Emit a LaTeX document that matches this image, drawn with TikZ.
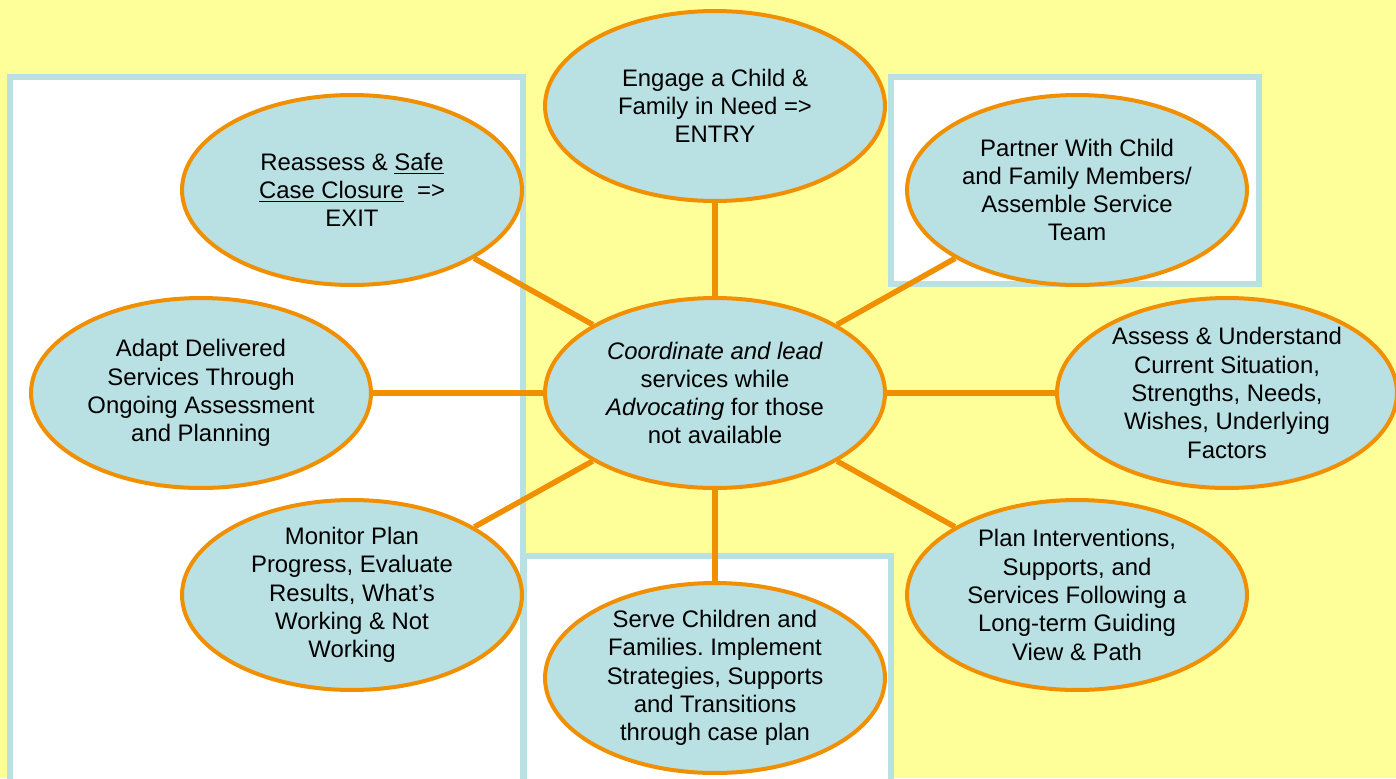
\documentclass[tikz,border=0pt]{standalone}
\usepackage{fontspec}
\setmainfont{Liberation Sans}
\usetikzlibrary{shapes.geometric}
\frenchspacing

\definecolor{paper}{RGB}{255,255,153}
\definecolor{bubblefill}{RGB}{185,224,227}
\definecolor{rim}{RGB}{240,144,0}

\begin{document}
\begin{tikzpicture}[x=0.02cm,y=-0.02cm]
	\tikzstyle{bubble} = [ellipse,draw=rim,fill=bubblefill,line width=0.08cm,minimum width=6.8cm,minimum height=3.8cm,inner sep=-0.2cm,align=center,font=\fontsize{13.6}{16.1}\selectfont];
	\tikzstyle{spoke} = [draw=rim,line width=0.11cm];
	\tikzstyle{panel} = [draw=bubblefill,fill=white,line width=0.12cm];
	\clip (0,0) rectangle (1396,778);
	\fill[paper] (0,0) rectangle (1396,778);
	% white panels
	\draw[panel] (10,77) rectangle (523,800);
	\draw[panel] (524,556) rectangle (891,800);
	\draw[panel] (891,77) rectangle (1259,284);
	% steps round the centre
	\node[bubble] (engage) at (715,106) {Engage a Child \&\\Family in Need =>\\ENTRY};
	\node[bubble] (reassess) at (352,190) {Reassess \& \underline{Safe}\\\underline{Case Closure}\ \ =>\\EXIT};
	\node[bubble] (partner) at (1077,190) {Partner With Child\\and Family Members/\\Assemble Service\\Team};
	\node[bubble] (coord) at (715,393) {\textit{Coordinate and lead}\\services while\\\textit{Advocating} for those\\not available};
	\node[bubble] (adapt) at (201,393) {Adapt Delivered\\Services Through\\Ongoing Assessment\\and Planning};
	\node[bubble] (assess) at (1227,393) {Assess \& Understand\\Current Situation,\\Strengths, Needs,\\Wishes, Underlying\\Factors};
	\node[bubble] (monitor) at (352,595) {Monitor Plan\\Progress, Evaluate\\Results, What’s\\Working \& Not\\Working};
	\node[bubble] (plan) at (1077,595) {Plan Interventions,\\Supports, and\\Services Following a\\Long-term Guiding\\View \& Path};
	\node[bubble] (serve) at (715,678) {Serve Children and\\Families. Implement\\Strategies, Supports\\and Transitions\\through case plan};
	\foreach \n in {engage,reassess,partner,adapt,assess,monitor,plan,serve}
		\draw[spoke] (coord) -- (\n);
\end{tikzpicture}
\end{document}
